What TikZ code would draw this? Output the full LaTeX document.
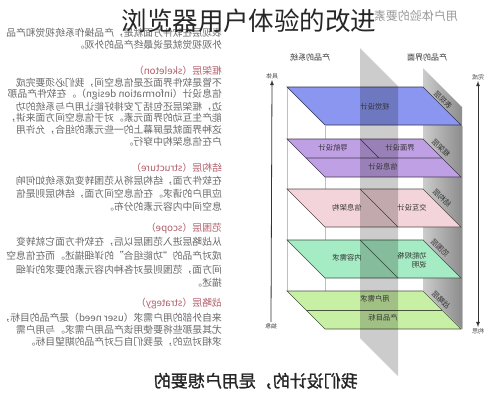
\documentclass[tikz,border=0pt]{standalone}
\usepackage{fontspec}
\setmainfont{Noto Sans CJK SC}
\newfontfamily\heavycjk[FakeBold=1.2]{Noto Sans CJK SC}
\definecolor{bodygray}{RGB}{105,105,105}
\definecolor{headred}{RGB}{178,96,108}
\definecolor{layerblue}{RGB}{138,150,240}
\definecolor{layerpurple}{RGB}{192,160,228}
\definecolor{layerpink}{RGB}{242,212,218}
\definecolor{layermint}{RGB}{165,235,195}
\definecolor{layerlime}{RGB}{200,240,165}
\begin{document}
\begin{tikzpicture}[>=latex, x=1pt, y=-1pt,
    flipx/.style={xscale=-1},
    txt/.style={flipx, anchor=west, inner sep=0pt, text=bodygray, font=\fontsize{9.8}{11}\selectfont},
    head/.style={txt, text=headred},
    lbl/.style={flipx, inner sep=0pt, text=black!80, font=\fontsize{7.3}{8.5}\selectfont},
    side/.style={lbl, rotate=45},
    tiny/.style={flipx, inner sep=1pt, text=black!70, font=\fontsize{6}{7}\selectfont},
    frame/.style={black!25, line width=.4pt}]
\fill[white] (0,0) rectangle (499,400);
\useasboundingbox (0,0) rectangle (499,400);

% text column (mirrored)
\node[txt] (s1) at (222,33) {表现层在软件方面就是，产品操作系统视觉和产品};
\node[txt] (s2) at (222,45) {外观视觉就是说最终产品的外观。};

\node[head] (skh) at (222,71) {框架层（skeleton）};
\node[txt] (sk1) at (222,83) {不管是软件界面还是信息空间，我们必须要完成};
\node[txt] (sk2) at (222,95) {信息设计（information design）。在软件产品那};
\node[txt] (sk3) at (222,107) {边，框架层还包括了安排好能让用户与系统的功};
\node[txt] (sk4) at (222,118) {能产生互动的界面元素。对于信息空间方面来讲，};
\node[txt] (sk5) at (222,130) {这种界面就是屏幕上的一些元素的组合，允许用};
\node[txt] (sk6) at (222,142) {户在信息架构中穿行。};

\node[head] (sth) at (222,168) {结构层（structure）};
\node[txt] (st1) at (222,181) {在软件方面，结构层将从范围转变成系统如何响};
\node[txt] (st2) at (222,194) {应用户的请求。在信息空间方面，结构层则是信};
\node[txt] (st3) at (222,207) {息空间中内容元素的分布。};

\node[head] (sch) at (222,228) {范围层（scope）};
\node[txt] (sc1) at (222,242) {从战略层进入范围层以后，在软件方面它就转变};
\node[txt] (sc2) at (222,256) {成对产品的“功能组合”的详细描述。而在信息空};
\node[txt] (sc3) at (222,270) {间方面，范围则是对各种内容元素的要求的详细};
\node[txt] (sc4) at (222,283) {描述。};

\node[head] (sgh) at (222,304) {战略层（strategy）};
\node[txt] (sg1) at (222,318) {来自外部的用户需求（user need）是产品的目标，};
\node[txt] (sg2) at (222,330) {尤其是那些将要使用该产品用户需求。与用户需};
\node[txt] (sg3) at (222,342) {求相对应的，是我们自己对产品的期望目标。};

% layered model
\shade[left color=black!20, right color=black!45] (423,68)--(462,107)--(462,329)--(423,290)--cycle;
\draw[frame] (287,87)--(287,291);
\draw[frame] (325,126)--(325,329);
\draw[frame] (462,126)--(462,329);

\foreach \t/\c in {87/layerblue,139/layerpurple,189/layerpink,240/layermint,291/layerlime}
{
    \filldraw[fill=\c, draw=\c!35!black, line width=.6pt] (287,\t)--(423,\t)--(461,\t+38)--(325,\t+38)--cycle;
}
\draw[layerpurple!35!black, line width=.6pt] (306,158)--(442,158) (360,139)--(379,158);
\draw[layerpink!35!black, line width=.6pt] (360,189)--(398,227);
\draw[layermint!35!black, line width=.6pt] (360,240)--(398,278);
\draw[layerlime!35!black, line width=.6pt] (306,310)--(442,310);

\fill[black, opacity=.2] (360,48)--(398,86)--(398,376)--(360,338)--cycle;

\node[lbl] (visual) at (375,107) {视觉设计};
\node[lbl] (nav) at (333,148) {导航设计};
\node[lbl] (iface) at (400,148) {界面设计};
\node[lbl] (info) at (383,167) {信息设计};
\node[lbl] (arch) at (347,208) {信息架构};
\node[lbl] (inter) at (412,208) {交互设计};
\node[lbl] (content) at (347,258) {内容需求};
\node[lbl, align=left] (spec) at (412,260) {功能规格\\说明};
\node[lbl] (need) at (375,299) {用户需求};
\node[lbl] (goal) at (383,318) {产品目标};

\node[side] (surf) at (443,100) {表现层};
\node[side] (skel) at (441,148) {框架层};
\node[side] (struc) at (442,198) {结构层};
\node[side] (scope) at (440,248) {范围层};
\node[side] (strat) at (441,300) {战略层};

\node[lbl, font=\fontsize{8}{9}\selectfont] (sys) at (310,57) {产品的系统};
\node[lbl, font=\fontsize{8}{9}\selectfont] (ui) at (427,57) {产品的界面};

\node[tiny] (conc) at (272,76) {具体};
\node[tiny] (abst) at (271,326) {抽象};
\node[tiny] (done) at (478,77) {完成};
\node[tiny] (idea) at (478,331) {构思};
\draw[->, black!80, line width=.8pt] (abst.north)--(conc.south);
\draw[<->, black!80, line width=.8pt] (idea.north)--(done.south);

% headings
\node[flipx, anchor=west, inner sep=0pt, text=black!40, font=\fontsize{12}{14}\selectfont] (elem) at (458,16) {用户体验的要素};
\node[inner sep=0pt, text=black!85, font=\fontsize{25.5}{28}\selectfont] (title) at (249,21) {浏览器用户体验的改进};
\node[flipx, anchor=west, inner sep=0pt, text=black!85, font=\heavycjk\fontsize{17}{19}\selectfont] (motto) at (358,381) {我们设计的，是用户想要的};

\end{tikzpicture}
\end{document}
